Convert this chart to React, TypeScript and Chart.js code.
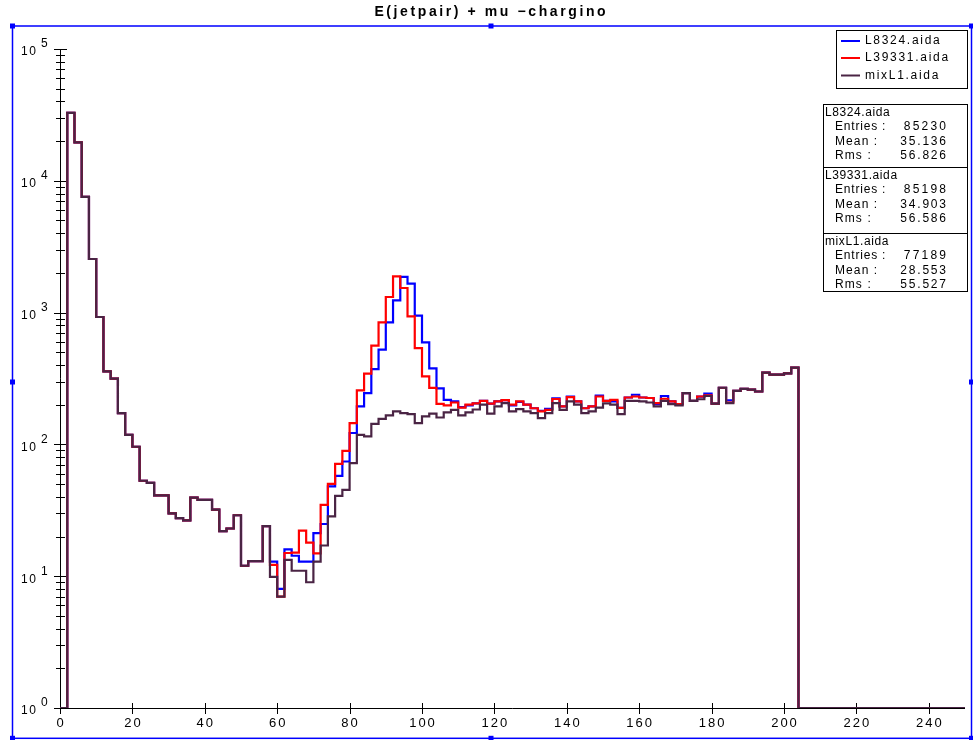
import React, { useEffect, useRef } from 'react';
import { Chart, registerables } from 'chart.js';

Chart.register(...registerables);

// ---- Histogram definition: 125 bins of width 2 from 0 to 250 ----
const BIN_WIDTH = 2;
const X_MIN = 0;
const X_MAX = 250;
const Y_MIN = 1;
const Y_MAX = 100000;

// bins [0,2) ... [56,58): identical in all three files
const sharedHead = [
  0, 32800, 19600, 7550, 2550, 926, 358, 315, 173, 118,
  96, 53, 51, 41, 41, 30, 27.6, 26.5, 39.5, 38,
  38, 32, 22, 23, 29, 12, 13, 13, 24,
];

// bins [58,60) ... [202,204)
const blueBody = [
  12.9, 8, 16, 14.3, 12.9, 12.9, 21.2, 24.9, 48, 57.8,
  74.2, 122, 194, 245, 373, 523, 843, 1238, 1864, 1658,
  947, 594, 377, 266, 218, 212, 192, 198, 205, 214,
  204, 212, 217, 198, 210, 200, 188, 180, 186, 224,
  194, 231, 212, 188, 194, 235, 214, 212, 189, 227,
  238, 227, 225, 202, 233, 212, 202, 245, 214, 230,
  243, 204, 269, 216, 255, 264, 260, 252, 350, 338,
  338, 346, 382,
];

const redBody = [
  12.2, 7, 15, 15.1, 22.2, 18, 14.9, 34.8, 50.2, 71.2,
  89.4, 145, 257, 344, 561, 843, 1313, 1884, 1537, 936,
  538, 328, 268, 203, 198, 208, 190, 200, 205, 214,
  204, 212, 217, 200, 212, 200, 188, 178, 183, 221,
  194, 228, 212, 188, 194, 231, 214, 218, 189, 227,
  231, 227, 225, 206, 222, 212, 202, 245, 214, 231,
  236, 204, 269, 208, 255, 264, 260, 252, 350, 338,
  338, 346, 382,
];

const mixBody = [
  9.9, 7, 13.3, 11, 11, 9, 12.9, 17.1, 28.4, 40.7,
  45.2, 72, 118, 115, 143, 156, 166, 178, 173, 170,
  145, 163, 171, 160, 175, 183, 166, 175, 184, 200,
  171, 194, 206, 178, 185, 178, 173, 158, 173, 206,
  183, 212, 200, 173, 178, 190, 205, 200, 170, 214,
  214, 212, 208, 194, 214, 202, 198, 245, 214, 220,
  233, 204, 269, 206, 255, 264, 260, 252, 350, 338,
  338, 346, 382,
];

// bins [204,206) ... [248,250): empty
const emptyTail = [
  0, 0, 0, 0, 0, 0, 0, 0, 0, 0, 0, 0,
  0, 0, 0, 0, 0, 0, 0, 0, 0, 0, 0,
];

const seriesNames = ['L8324.aida', 'L39331.aida', 'mixL1.aida'];
const seriesColors = ['#0000ff', '#ff0000', '#4a2444'];
const statEntries = ['85230', '85198', '77189'];
const statMeans = ['35.136', '34.903', '28.553'];
const statRms = ['56.826', '56.586', '55.527'];

const xTickValues = [0, 20, 40, 60, 80, 100, 120, 140, 160, 180, 200, 220, 240];
const yDecades = [0, 1, 2, 3, 4, 5];

const TITLE = 'E(jetpair) + mu \u2212chargino';

const FONT = '"Liberation Sans", Arial, Helvetica, sans-serif';

function toPoints(body: number[]) {
  const counts = [...sharedHead, ...body, ...emptyTail];
  const pts = counts.map((c, i) => ({ x: X_MIN + i * BIN_WIDTH, y: c > 0 ? c : Y_MIN }));
  pts.push({ x: X_MAX, y: pts[pts.length - 1].y });
  return pts;
}

function drawText(
  ctx: CanvasRenderingContext2D,
  text: string,
  x: number,
  y: number,
  font: string,
  align: 'left' | 'center' | 'right' = 'left',
  ls = 0,
  color = '#000',
) {
  ctx.save();
  ctx.font = font;
  (ctx as any).letterSpacing = ls + 'px';
  ctx.fillStyle = color;
  ctx.textBaseline = 'middle';
  ctx.textAlign = 'left';
  const w = ctx.measureText(text).width;
  let sx = x;
  if (align === 'center') sx = x - (w - ls) / 2;
  else if (align === 'right') sx = x - (w - ls);
  ctx.fillText(text, sx, y);
  ctx.restore();
}

const decorPlugin = {
  id: 'rootDecor',
  beforeDatasetsDraw(chart: any) {
    const ctx: CanvasRenderingContext2D = chart.ctx;
    const xs = chart.scales.x;
    const ys = chart.scales.y;
    const area = chart.chartArea;
    ctx.save();
    ctx.strokeStyle = '#000';
    ctx.lineWidth = 1;
    ctx.beginPath();
    ctx.moveTo(area.left + 0.5, area.top);
    ctx.lineTo(area.left + 0.5, area.bottom + 0.5);
    ctx.lineTo(area.right, area.bottom + 0.5);
    ctx.stroke();
    ctx.beginPath();
    yDecades.forEach((d) => {
      const v = Math.pow(10, d);
      const py = Math.round(ys.getPixelForValue(v)) + 0.5;
      ctx.moveTo(area.left - 6, py);
      ctx.lineTo(area.left + 7, py);
      if (d < 5) {
        for (let m = 2; m <= 9; m++) {
          const pm = Math.round(ys.getPixelForValue(m * v)) + 0.5;
          ctx.moveTo(area.left - 4, pm);
          ctx.lineTo(area.left + 5, pm);
        }
      }
    });
    xTickValues.forEach((t) => {
      const px = Math.round(xs.getPixelForValue(t)) + 0.5;
      ctx.moveTo(px, area.bottom - 5);
      ctx.lineTo(px, area.bottom + 6);
    });
    ctx.stroke();
    ctx.restore();
  },
  afterDraw(chart: any) {
    const ctx: CanvasRenderingContext2D = chart.ctx;
    const xs = chart.scales.x;
    const ys = chart.scales.y;
    const area = chart.chartArea;

    xTickValues.forEach((t) => {
      drawText(ctx, String(t), xs.getPixelForValue(t), area.bottom + 15, `13px ${FONT}`, 'center', 2);
    });
    yDecades.forEach((d) => {
      const py = ys.getPixelForValue(Math.pow(10, d));
      drawText(ctx, '10', 21, py + 3, `12px ${FONT}`, 'left', 1.5);
      drawText(ctx, String(d), 41, py - 5, `12px ${FONT}`, 'left', 0);
    });

    drawText(ctx, TITLE, 490, 12, `bold 14px ${FONT}`, 'center', 2.6);

    ctx.save();
    ctx.strokeStyle = '#000';
    ctx.lineWidth = 1;
    ctx.fillStyle = '#fff';
    ctx.fillRect(836.5, 30.5, 131, 58);
    ctx.strokeRect(836.5, 30.5, 131, 58);
    const legendY = [41, 58, 75.5];
    seriesNames.forEach((n, i) => {
      ctx.strokeStyle = seriesColors[i];
      ctx.lineWidth = 2;
      ctx.beginPath();
      ctx.moveTo(841, legendY[i]);
      ctx.lineTo(860, legendY[i]);
      ctx.stroke();
      drawText(ctx, n, 865, legendY[i], `12px ${FONT}`, 'left', 1.7);
    });
    ctx.restore();

    ctx.save();
    ctx.fillStyle = '#fff';
    ctx.fillRect(823.5, 104.5, 144, 187);
    ctx.strokeStyle = '#000';
    ctx.lineWidth = 1;
    ctx.strokeRect(823.5, 104.5, 144, 187);
    ctx.beginPath();
    ctx.moveTo(823.5, 167.5);
    ctx.lineTo(967.5, 167.5);
    ctx.moveTo(823.5, 233.5);
    ctx.lineTo(967.5, 233.5);
    ctx.stroke();
    const sectionTop = [104.5, 167.5, 233.5];
    seriesNames.forEach((n, i) => {
      const y0 = sectionTop[i];
      const f = `12px ${FONT}`;
      drawText(ctx, n, 825, y0 + 8.5, f, 'left', 0.6);
      drawText(ctx, 'Entries :', 835, y0 + 22.5, f, 'left', 0.8);
      drawText(ctx, statEntries[i], 946, y0 + 22.5, f, 'right', 2.2);
      drawText(ctx, 'Mean :', 835, y0 + 37, f, 'left', 1.1);
      drawText(ctx, statMeans[i], 946, y0 + 37, f, 'right', 1.8);
      drawText(ctx, 'Rms :', 835, y0 + 51.5, f, 'left', 1.1);
      drawText(ctx, statRms[i], 946, y0 + 51.5, f, 'right', 1.8);
    });
    ctx.restore();

    ctx.save();
    ctx.strokeStyle = '#0000ff';
    ctx.lineWidth = 1.5;
    ctx.strokeRect(12.5, 26, 959, 712.3);
    ctx.fillStyle = '#0000ff';
    const hx = [12.5, 491, 971.5];
    const hy = [26, 382, 738.3];
    hx.forEach((x, ix) => {
      hy.forEach((y, iy) => {
        if (ix === 1 && iy === 1) return;
        ctx.fillRect(x - 2.5, y - 2.5, 5, 5);
      });
    });
    ctx.restore();
  },
};

export default function App() {
  const canvasRef = useRef<HTMLCanvasElement | null>(null);

  useEffect(() => {
    document.body.style.margin = '0';
    const canvas = canvasRef.current;
    if (!canvas) return;
    const bodies = [blueBody, redBody, mixBody];
    const chart = new Chart(canvas, {
      type: 'line',
      data: {
        datasets: bodies.map((b, i) => ({
          label: seriesNames[i],
          data: toPoints(b),
          borderColor: seriesColors[i],
          backgroundColor: seriesColors[i],
          borderWidth: 2.2,
          pointRadius: 0,
          stepped: 'before' as const,
          fill: false,
          order: 3 - i,
        })),
      },
      options: {
        responsive: false,
        devicePixelRatio: 1,
        animation: false,
        layout: { padding: { left: 60, top: 49, right: 8, bottom: 32 } },
        scales: {
          x: { type: 'linear', min: X_MIN, max: X_MAX, display: false },
          y: { type: 'logarithmic', min: Y_MIN, max: Y_MAX, display: false },
        },
        plugins: {
          legend: { display: false },
          tooltip: { enabled: false },
          title: { display: false },
        },
        events: [],
      },
      plugins: [decorPlugin],
    });
    return () => chart.destroy();
  }, []);

  return (
    <div style={{ position: 'fixed', left: 0, top: 0, width: 973, height: 740, background: '#fff' }}>
      <canvas ref={canvasRef} width={973} height={740} style={{ display: 'block', width: 973, height: 740 }} />
    </div>
  );
}
